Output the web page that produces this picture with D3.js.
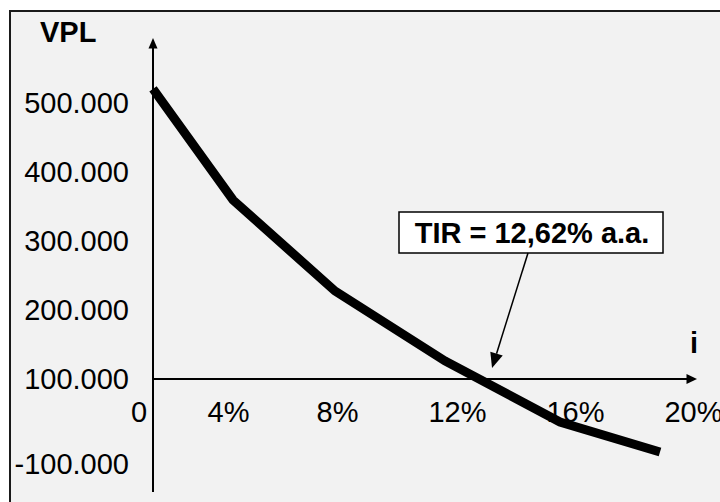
<!DOCTYPE html>
<html>
<head>
<meta charset="utf-8">
<script src="https://cdn.jsdelivr.net/npm/d3@7"></script>
<style>
  html, body { margin: 0; padding: 0; background: #ffffff; }
  svg { display: block; }
  text { font-family: "Liberation Sans", Arial, sans-serif; fill: #000; }
</style>
</head>
<body>
<svg id="chart" width="720" height="502"></svg>
<script>
// ---- data ----
const rates = [0, 4, 8, 12, 16, 20];                       // i (% a.a.)
const vpl = [419600, 258700, 126800, 25400, -63000, -106500]; // VPL
const xTickValues = [0, 4, 8, 12, 16, 20];
const xTickLabels = ["0", "4%", "8%", "12%", "16%", "20%"];
const yTickValues = [400000, 300000, 200000, 100000, 0, -122500];
const yTickLabels = ["500.000", "400.000", "300.000", "200.000", "100.000", "-100.000"];
const tirValue = 12.62;
const tirLabel = "TIR = 12,62% a.a.";
const yTitle = "VPL";
const xTitle = "i";

// ---- layout ----
const W = 720, H = 502;
const axisX = 153;
const svg = d3.select("#chart");

// frame
svg.append("rect")
  .attr("x", 10).attr("y", 11).attr("width", W + 10).attr("height", H + 10)
  .attr("fill", "#f2f2f2").attr("stroke", "#1a1a1a").attr("stroke-width", 2);

// scales
const x = d3.scaleLinear().domain(rates).range([153, 233, 335, 445, 560, 660]);
const xLab = d3.scaleLinear().domain(xTickValues).range([138.5, 228, 337, 457, 575, 693]);
const y = d3.scaleLinear().domain([0, 100000]).range([378.5, 309.5]);
const y0 = y(0);

// y tick labels
const yAxis = d3.axisLeft(y).tickValues(yTickValues)
  .tickFormat((d, i) => yTickLabels[i]).tickSize(0).tickPadding(24);
const gy = svg.append("g").attr("transform", `translate(${axisX},0)`).call(yAxis);
gy.select(".domain").remove();
gy.selectAll("text").attr("font-size", 29).attr("dy", "0.36em")
  .style("font-family", '"Liberation Sans", Arial, sans-serif');

// x tick labels
const xAxis = d3.axisBottom(xLab).tickValues(xTickValues)
  .tickFormat((d, i) => xTickLabels[i]).tickSize(0).tickPadding(23);
const gx = svg.append("g").attr("transform", `translate(0,${y0})`).call(xAxis);
gx.select(".domain").remove();
gx.selectAll("text").attr("font-size", 29)
  .style("font-family", '"Liberation Sans", Arial, sans-serif');

// axes lines with arrows
svg.append("line").attr("x1", axisX).attr("x2", axisX).attr("y1", 47).attr("y2", 492)
  .attr("stroke", "#000").attr("stroke-width", 2);
svg.append("path").attr("d", `M${axisX},38 L${axisX - 4.5},48.5 L${axisX + 4.5},48.5 Z`).attr("fill", "#000");
svg.append("line").attr("x1", axisX).attr("x2", 688).attr("y1", y0 + 0.5).attr("y2", y0 + 0.5)
  .attr("stroke", "#000").attr("stroke-width", 2);
svg.append("path").attr("d", `M697,${y0 + 0.5} L686.5,${y0 - 4.5} L686.5,${y0 + 5.5} Z`).attr("fill", "#000");

// titles
svg.append("text").attr("x", 40).attr("y", 42).attr("font-size", 29).attr("font-weight", "bold").text(yTitle);
svg.append("text").attr("x", 694).attr("y", 353).attr("text-anchor", "middle")
  .attr("font-size", 29).attr("font-weight", "bold").text(xTitle);

// curve
const line = d3.line().x((d, i) => x(rates[i])).y(d => y(d));
svg.append("path").datum(vpl).attr("d", line)
  .attr("fill", "none").attr("stroke", "#000").attr("stroke-width", 9)
  .attr("stroke-linejoin", "miter").attr("stroke-linecap", "butt");

// crossing point of curve with axis (TIR)
let cross = null;
for (let k = 0; k < vpl.length - 1; k++) {
  if (vpl[k] >= 0 && vpl[k + 1] < 0) {
    const t = vpl[k] / (vpl[k] - vpl[k + 1]);
    cross = x(rates[k]) + t * (x(rates[k + 1]) - x(rates[k]));
  }
}

// annotation box
const bx = 399, by = 212, bw = 264, bh = 41;
svg.append("rect").attr("x", bx).attr("y", by).attr("width", bw).attr("height", bh)
  .attr("fill", "#ffffff").attr("stroke", "#000").attr("stroke-width", 1.5);
svg.append("text").attr("x", bx + bw / 2 + 1).attr("y", 243).attr("text-anchor", "middle")
  .attr("font-size", 29).attr("font-weight", "bold").text(tirLabel);

// annotation arrow
const tipX = cross + 14, tipY = y0 - 10.5;
const sx = 528, sy = by + bh;
const ang = Math.atan2(tipY - sy, tipX - sx);
const L = 15, hw = 6.5;
const bxp = tipX - L * Math.cos(ang), byp = tipY - L * Math.sin(ang);
svg.append("line").attr("x1", sx).attr("y1", sy).attr("x2", bxp).attr("y2", byp)
  .attr("stroke", "#000").attr("stroke-width", 1.5);
svg.append("path").attr("d",
  `M${tipX},${tipY} L${bxp + hw * Math.sin(ang)},${byp - hw * Math.cos(ang)} L${bxp - hw * Math.sin(ang)},${byp + hw * Math.cos(ang)} Z`)
  .attr("fill", "#000");
</script>
</body>
</html>
